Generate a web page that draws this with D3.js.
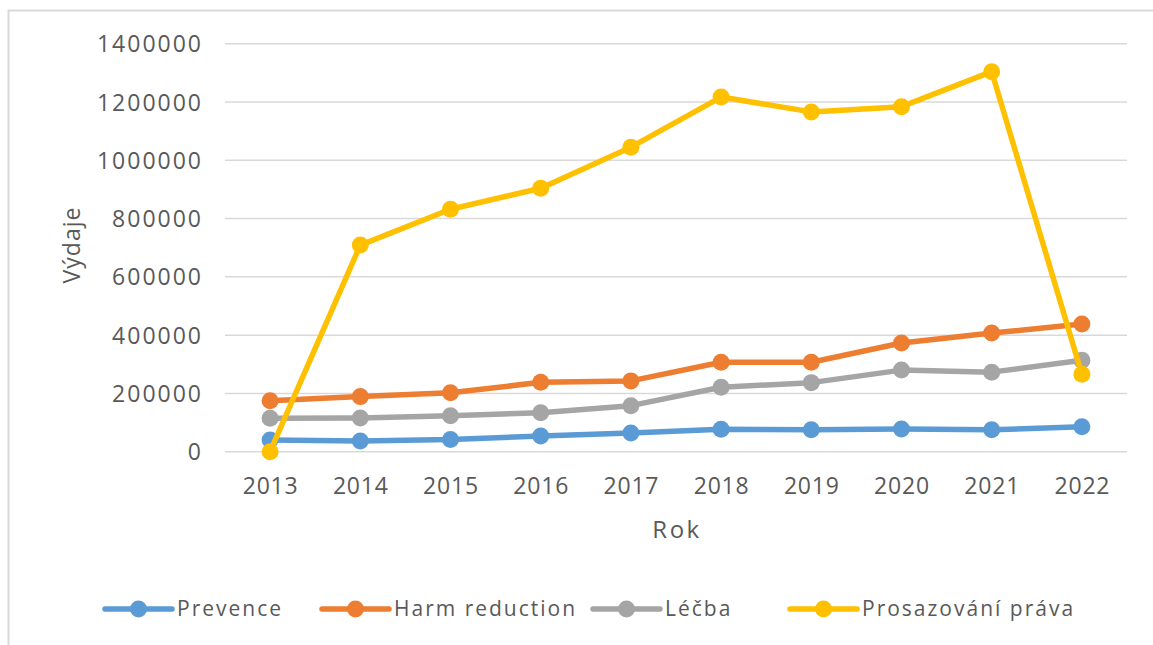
<!DOCTYPE html>
<html><head><meta charset="utf-8">
<script src="https://cdn.jsdelivr.net/npm/d3@7"></script>
<style>body{margin:0;background:#fff;} svg{display:block;font-family:"Open Sans",sans-serif;}</style>
</head><body>
<svg id="chart" width="1153" height="645"></svg>
<script>
const years = ["2013","2014","2015","2016","2017","2018","2019","2020","2021","2022"];
const prevence = [40000,37000,42000,54000,64000,77000,75000,78000,75000,86000];
const harmReduction = [175000,189000,202000,238000,243000,307000,307000,373000,407000,438000];
const lecba = [115000,116000,123000,134000,158000,221000,237000,280000,273000,314000];
const prosazovani = [0,709000,832000,904000,1045000,1217000,1166000,1184000,1304000,266000];
const yTicks = [0,200000,400000,600000,800000,1000000,1200000,1400000];
const seriesNames = ["Prevence","Harm reduction","Léčba","Prosazování práva"];
const colors = ["#5B9BD5","#ED7D31","#A5A5A5","#FFC000"];
const seriesData = [prevence, harmReduction, lecba, prosazovani];

const svg = d3.select("#chart");
const L = 225, R = 1127, T = 43.7, B = 451.7;
const x = d3.scalePoint().domain(years).range([L,R]).padding(0.5);
const y = d3.scaleLinear().domain([0,1400000]).range([B,T]);

// outer border (left + top)
svg.append("path").attr("d","M8.5,645 V10.5 H1153").attr("fill","none").attr("stroke","#D9D9D9").attr("stroke-width",2);

// grid
svg.append("g").selectAll("line").data(yTicks).join("line")
  .attr("x1",L).attr("x2",R).attr("y1",d=>y(d)).attr("y2",d=>y(d))
  .attr("stroke","#D9D9D9").attr("stroke-width",1.5);

// y axis
const yAxis = svg.append("g").attr("transform",`translate(${L},0)`)
  .call(d3.axisLeft(y).tickValues(yTicks).tickSize(0).tickPadding(22).tickFormat(d3.format("d")));
yAxis.select(".domain").remove();
yAxis.selectAll("text").attr("fill","#595959").attr("font-size",23).attr("font-family","Open Sans")
  .attr("letter-spacing","2px").attr("dy","0.35em");

// x axis
const xAxis = svg.append("g").attr("transform",`translate(0,${B})`)
  .call(d3.axisBottom(x).tickSize(0).tickPadding(26));
xAxis.select(".domain").remove();
xAxis.selectAll("text").attr("fill","#595959").attr("font-size",23).attr("font-family","Open Sans")
  .attr("letter-spacing","0.8px");

// titles
svg.append("text").attr("x",677).attr("y",538).attr("text-anchor","middle")
  .attr("font-size",24).attr("letter-spacing","2.5px").attr("fill","#595959").text("Rok");
svg.append("text").attr("transform","translate(80,245) rotate(-90)").attr("text-anchor","middle")
  .attr("font-size",23).attr("letter-spacing","1px").attr("fill","#595959").text("Výdaje");

// lines
const line = d3.line().x((d,i)=>x(years[i])).y(d=>y(d));
seriesData.forEach((s,k)=>{
  const g = svg.append("g");
  g.append("path").datum(s).attr("d",line).attr("fill","none")
    .attr("stroke",colors[k]).attr("stroke-width",5.5).attr("stroke-linejoin","round").attr("stroke-linecap","round");
  g.selectAll("circle").data(s).join("circle")
    .attr("cx",(d,i)=>x(years[i])).attr("cy",d=>y(d)).attr("r",8.5).attr("fill",colors[k]);
});

// legend
const legendX = [105,322,593,790];
const lg = svg.append("g");
seriesNames.forEach((n,k)=>{
  const g = lg.append("g").attr("transform",`translate(${legendX[k]},609)`);
  g.append("line").attr("x1",0).attr("x2",67).attr("y1",0).attr("y2",0)
    .attr("stroke",colors[k]).attr("stroke-width",5.5).attr("stroke-linecap","round");
  g.append("circle").attr("cx",33.5).attr("cy",0).attr("r",8.5).attr("fill",colors[k]);
  g.append("text").attr("x",72).attr("y",0).attr("dy","0.35em")
    .attr("font-size",21).attr("letter-spacing","2px").attr("fill","#595959").text(n);
});
</script>
</body></html>
